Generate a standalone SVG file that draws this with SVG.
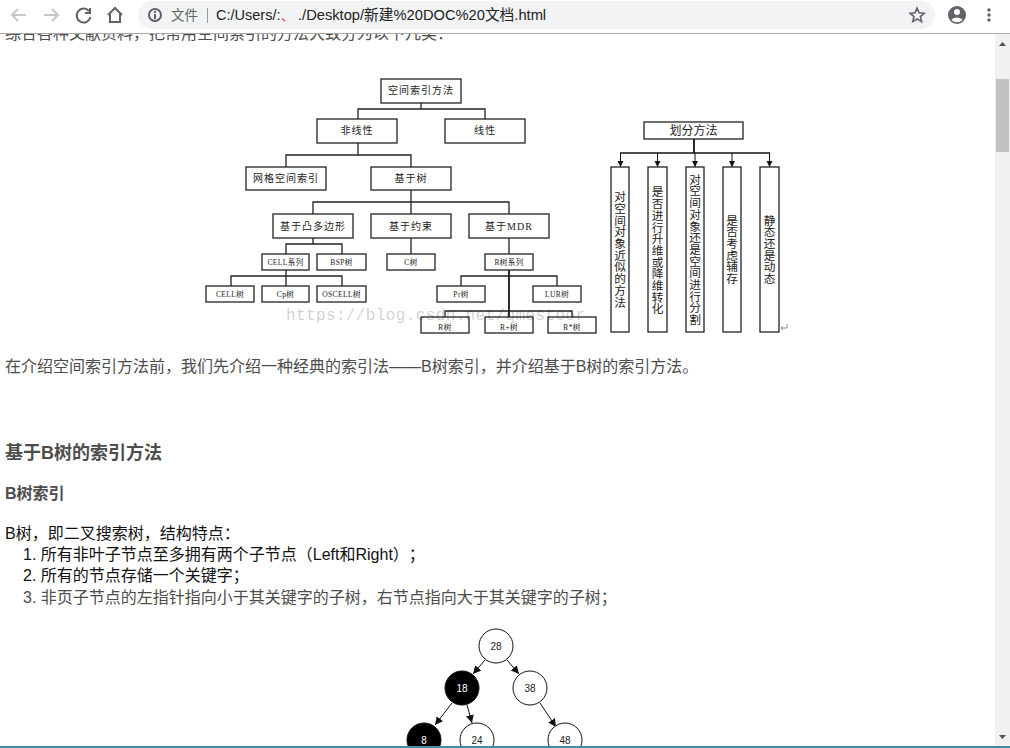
<svg xmlns="http://www.w3.org/2000/svg" width="1010" height="748" viewBox="0 0 1010 748">
<defs>
<style>
text{font-family:"Liberation Sans","Noto Sans CJK SC",sans-serif;text-spacing-trim:space-all}
.p{font-size:16px;fill:#4d4d4d}
.k{font-size:16px;fill:#111}
.h{font-weight:bold;fill:#4d4d4d}
.box rect{fill:#fff;stroke:#222;stroke-width:1.3}
.box text{fill:#222;text-anchor:middle;font-family:"Liberation Serif","Noto Sans CJK SC",serif}
.b1 text{font-size:10px;letter-spacing:1px}
.b2 text{font-size:7.5px;letter-spacing:.4px}
.v text{font-size:11.700px;writing-mode:vertical-rl;text-orientation:upright;text-anchor:middle;fill:#222;font-family:"Noto Sans CJK SC",sans-serif}
.con path{fill:none;stroke:#222;stroke-width:1.3}
.tr path{fill:none;stroke:#111;stroke-width:1;marker-end:url(#a)}
.c circle{fill:#fff;stroke:#111;stroke-width:1}
.c text{font-size:10px;text-anchor:middle;fill:#222}
.c.d circle{fill:#000}
.c.d text{fill:#fff}
.ic{fill:none;stroke:#5f6368;stroke-width:2}
.ig{fill:none;stroke:#c4c6c9;stroke-width:2}
</style>
<marker id="a" markerWidth="9" markerHeight="9" refX="8" refY="4" orient="auto" markerUnits="userSpaceOnUse"><path d="M0 0L8 4L0 8Z" fill="#111"/></marker>
<marker id="b" markerWidth="7" markerHeight="7" refX="6" refY="3" orient="auto" markerUnits="userSpaceOnUse"><path d="M0 0L6 3L0 6Z" fill="#111"/></marker>
</defs>
<rect width="1010" height="748" fill="#fff"/>
<text class="p" x="5" y="39">综合各种文献资料，把常用空间索引的方法大致分为以下几类：</text>
<g id="toolbar">
<rect width="1010" height="33" fill="#fff"/>
<rect x="0" y="33" width="1010" height="1" fill="#aaa"/>
<rect x="138" y="1" width="797" height="28" rx="14" fill="#f1f3f4"/>
<path class="ig" d="M26 15H12M18 9l-6 6 6 6"/>
<path class="ig" d="M44 15H58M52 9l6 6-6 6"/>
<path class="ic" d="M89 11a7 7 0 1 0 1.500 6M90 8v5h-5"/>
<path class="ic" d="M108 15l7-7 7 7M110 14v8h10v-8"/>
<circle class="ic" cx="155" cy="15" r="6" stroke-width="1.500"/>
<rect x="154" y="14" width="2" height="5" fill="#5f6368"/><rect x="154" y="11" width="2" height="2" fill="#5f6368"/>
<text x="171" y="20" font-size="13.500" fill="#5f6368">文件</text>
<rect x="207" y="8" width="1" height="15" fill="#999"/>
<text x="216" y="20" font-size="14.500" fill="#222">C:/Users/:</text>
<text x="281" y="20" font-size="13" fill="#d33">、</text>
<text x="298" y="20" font-size="14.700" fill="#222">./Desktop/新建%20DOC%20文档.html</text>
<path d="M917 8l2.200 4.800 5 .5-3.800 3.300 1.200 5-4.400-2.700-4.400 2.700 1.200-5-3.800-3.300 5-.5z" fill="none" stroke="#5f6368" stroke-width="1.600"/>
<circle cx="957" cy="15" r="9" fill="#5f6368"/><circle cx="957" cy="12" r="3" fill="#fff"/><path d="M951.500 20c1-3.500 10-3.500 11 0a8 8 0 0 1-11 0z" fill="#fff"/>
<circle cx="989" cy="10" r="1.700" fill="#5f6368"/><circle cx="989" cy="15" r="1.700" fill="#5f6368"/><circle cx="989" cy="20" r="1.700" fill="#5f6368"/>
</g>
<g id="scrollbar">
<rect x="995" y="34" width="15" height="714" fill="#f1f1f1"/>
<path d="M999 46l3.500-4 3.500 4z" fill="#505050"/>
<path d="M999 735l3.500 4 3.500-4z" fill="#505050"/>
<rect x="996" y="79" width="13" height="73" fill="#c1c1c1"/>
</g>
<g class="con" id="connectors-left">
<path d="M421 103V109M358 119V109H485V119M358 143V155M286 167V155H411V167M411 190V214M313 214V202H509V214M313 238V244M286 254V244H342V254M411 238V254M509 238V254M286 270V276M231 286V276H342V286M286 276V286M461 286V276H557V286M445 317V311H572V317"/>
<path d="M509 270V317" style="stroke-width:1.900"/>
</g>
<g class="box b1">
<g id="n-root"><rect x="381" y="79" width="80" height="24"/><text x="421" y="94">空间索引方法</text></g>
<g id="n-nonlinear"><rect x="317" y="119" width="80" height="24"/><text x="357" y="134">非线性</text></g>
<g id="n-linear"><rect x="445" y="119" width="80" height="24"/><text x="485" y="134">线性</text></g>
<g id="n-grid"><rect x="246" y="167" width="80" height="23"/><text x="286" y="182">网格空间索引</text></g>
<g id="n-tree"><rect x="371" y="167" width="80" height="23"/><text x="411" y="182">基于树</text></g>
<g id="n-convex"><rect x="273" y="214" width="80" height="24"/><text x="313" y="230">基于凸多边形</text></g>
<g id="n-constraint"><rect x="371" y="214" width="80" height="24"/><text x="411" y="230">基于约束</text></g>
<g id="n-mdr"><rect x="469" y="214" width="80" height="24"/><text x="509" y="230">基于MDR</text></g>
</g>
<g class="box b2">
<g id="n-cellseries"><rect x="262" y="254" width="47" height="16"/><text x="285.500" y="265">CELL系列</text></g>
<g id="n-bsp"><rect x="317" y="254" width="49" height="16"/><text x="341.500" y="265">BSP树</text></g>
<g id="n-c"><rect x="387" y="254" width="48" height="16"/><text x="411" y="265">C树</text></g>
<g id="n-rseries"><rect x="485" y="254" width="48" height="16"/><text x="509" y="265">R树系列</text></g>
<g id="n-cell"><rect x="206" y="286" width="48" height="16"/><text x="230" y="297">CELL树</text></g>
<g id="n-cp"><rect x="262" y="286" width="47" height="16"/><text x="285.500" y="297">Cp树</text></g>
<g id="n-oscell"><rect x="317" y="286" width="49" height="16"/><text x="341.500" y="297">OSCELL树</text></g>
<g id="n-pr"><rect x="437" y="286" width="48" height="16"/><text x="461" y="297">Pr树</text></g>
<g id="n-lur"><rect x="533" y="286" width="48" height="16"/><text x="557" y="297">LUR树</text></g>
<g id="n-r"><rect x="421" y="317" width="48" height="16"/><text x="445" y="330">R树</text></g>
<g id="n-rplus"><rect x="485" y="317" width="48" height="16"/><text x="509" y="330">R+树</text></g>
<g id="n-rstar"><rect x="548" y="317" width="48" height="16"/><text x="572" y="330">R*树</text></g>
</g>
<text x="286" y="320" font-size="16" fill="#000" fill-opacity=".2" style="font-family:'Liberation Mono',monospace" textLength="299">https://blog.csdn.net/qmestoor</text>
<g id="connectors-right">
<path d="M694 139V153" fill="none" stroke="#111" stroke-width="1.800"/>
<path d="M620 153H770" fill="none" stroke="#111" stroke-width="1.300"/>
<g fill="none" stroke="#111" stroke-width="1">
<path d="M620.500 153V167" marker-end="url(#b)"/><path d="M657.500 153V167" marker-end="url(#b)"/><path d="M695 153V167" marker-end="url(#b)"/><path d="M732 153V167" marker-end="url(#b)"/><path d="M769.500 153V167" marker-end="url(#b)"/>
</g>
</g>
<g class="box" id="n-method"><rect x="644" y="122" width="99" height="17"/><text x="693.500" y="135" font-size="12" style="font-family:'Noto Sans CJK SC',sans-serif">划分方法</text></g>
<g class="box v">
<g id="v1"><rect x="611" y="167" width="18" height="165"/><text x="620" y="249.500">对空间对象近似的方法</text></g>
<g id="v2"><rect x="648" y="167" width="19" height="165"/><text x="657.500" y="250.500">是否进行升维或降维转化</text></g>
<g id="v3"><rect x="686" y="167" width="18" height="165"/><text x="695" y="249.500">对空间对象还是空间进行分割</text></g>
<g id="v4"><rect x="723" y="167" width="18" height="165"/><text x="732" y="249.500">是否考虑辅存</text></g>
<g id="v5"><rect x="760" y="167" width="19" height="165"/><text x="769.500" y="249.500">静态还是动态</text></g>
</g>
<path d="M787 324v4h-6M783 326l-2 2 2 2" fill="none" stroke="#777" stroke-width=".8"/>
<text class="p" x="5" y="372">在介绍空间索引方法前，我们先介绍一种经典的索引法——B树索引，并介绍基于B树的索引方法。</text>
<text class="h" x="5" y="459" font-size="18">基于B树的索引方法</text>
<text class="h" x="5" y="499" font-size="16">B树索引</text>
<text class="k" x="5" y="539">B树，即二叉搜索树，结构特点：</text>
<text class="k" x="23" y="560">1. 所有非叶子节点至多拥有两个子节点（Left和Right）；</text>
<text class="k" x="23" y="581">2. 所有的节点存储一个关键字；</text>
<text class="p" x="23" y="603">3. 非页子节点的左指针指向小于其关键字的子树，右节点指向大于其关键字的子树；</text>
<g class="tr" id="connectors-tree">
<path d="M485 660L473 674"/><path d="M507 660L519 674"/><path d="M452 703L435 725"/><path d="M467 705L472 723"/><path d="M540 703L556 727"/>
</g>
<g class="c" id="t28"><circle cx="496" cy="646" r="17"/><text x="496" y="650">28</text></g>
<g class="c d" id="t18"><circle cx="462" cy="688" r="17"/><text x="462" y="692">18</text></g>
<g class="c" id="t38"><circle cx="530" cy="688" r="17"/><text x="530" y="692">38</text></g>
<g class="c d" id="t8"><circle cx="424" cy="740" r="17"/><text x="424" y="744">8</text></g>
<g class="c" id="t24"><circle cx="477" cy="740" r="17"/><text x="477" y="744">24</text></g>
<g class="c" id="t48"><circle cx="565" cy="740" r="17"/><text x="565" y="744">48</text></g>
<rect x="0" y="746" width="1010" height="2" fill="#4a86a8"/>
</svg>
